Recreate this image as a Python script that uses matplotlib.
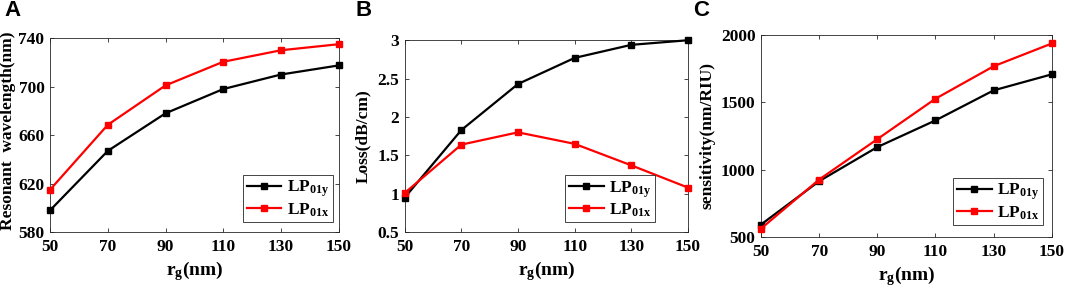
"""Three-panel plot of resonant wavelength, loss and sensitivity versus r_g."""

import matplotlib

matplotlib.use("Agg")

import matplotlib.pyplot as plt

# shared x axis
rg_nm = [50, 70, 90, 110, 130, 150]
series_labels = [r"LP$_{\rm 01y}$", r"LP$_{\rm 01x}$"]

# panel A: resonant wavelength (nm)
wavelength_01y = [598, 647, 678, 698, 710, 717.5]
wavelength_01x = [615, 668.5, 701, 720.5, 730, 735]

# panel B: loss (dB/cm)
loss_01y = [0.95, 1.83, 2.43, 2.77, 2.94, 3.0]
loss_01x = [1.01, 1.64, 1.80, 1.65, 1.37, 1.08]

# panel C: sensitivity (nm/RIU)
sensitivity_01y = [592, 914, 1167, 1365, 1588, 1707]
sensitivity_01x = [562, 926, 1226, 1526, 1767, 1936]

plt.rcParams["font.family"] = "Liberation Serif"
plt.rcParams["font.weight"] = "bold"
plt.rcParams["axes.labelweight"] = "bold"
plt.rcParams["mathtext.fontset"] = "custom"
plt.rcParams["mathtext.rm"] = "Liberation Serif:bold"
plt.rcParams["mathtext.it"] = "Liberation Serif:bold"
plt.rcParams["mathtext.bf"] = "Liberation Serif:bold"

EDGE = "#262626"

panels = [
    {
        "letter": "A",
        "letter_x": 0.004,
        "rect": [0.047, 0.221, 0.271, 0.651],
        "y1": wavelength_01y,
        "y2": wavelength_01x,
        "ylim": (580, 740),
        "yticks": [580, 620, 660, 700, 740],
        "yticklabels": ["580", "620", "660", "700", "740"],
        "ylabel": "Resonant  wavelength(nm)",
        "ylabel_xy": (-0.117, 0.525),
        "legend_anchor": (0.979, 0.052),
    },
    {
        "letter": "B",
        "letter_x": 0.334,
        "rect": [0.380, 0.221, 0.266, 0.644],
        "y1": loss_01y,
        "y2": loss_01x,
        "ylim": (0.5, 3.0),
        "yticks": [0.5, 1, 1.5, 2, 2.5, 3],
        "yticklabels": ["0.5", "1", "1.5", "2", "2.5", "3"],
        "ylabel": "Loss(dB/cm)",
        "ylabel_xy": (-0.12, 0.5),
        "legend_anchor": (0.883, 0.052),
    },
    {
        "letter": "C",
        "letter_x": 0.651,
        "rect": [0.7146, 0.205, 0.273, 0.678],
        "y1": sensitivity_01y,
        "y2": sensitivity_01x,
        "ylim": (500, 2000),
        "yticks": [500, 1000, 1500, 2000],
        "yticklabels": ["500", "1000", "1500", "2000"],
        "ylabel": "sensitivity(nm/RIU)",
        "ylabel_xy": (-0.155, 0.5),
        "legend_anchor": (0.969, 0.059),
    },
]

fig = plt.figure(figsize=(10.65, 2.98), dpi=100)

for panel in panels:
    ax = fig.add_axes(panel["rect"])
    ax.plot(rg_nm, panel["y1"], color="black", marker="s", markersize=4.8,
            linewidth=1.6, label=series_labels[0], clip_on=False, zorder=3)
    ax.plot(rg_nm, panel["y2"], color="#ff0000", marker="s", markersize=4.8,
            linewidth=1.6, label=series_labels[1], clip_on=False, zorder=3)

    ax.set_xlim(50, 150)
    ax.set_xticks(rg_nm)
    ax.set_xticklabels([str(v) for v in rg_nm], fontsize=12.5, fontweight="bold")
    ax.set_ylim(*panel["ylim"])
    ax.set_yticks(panel["yticks"])
    ax.set_yticklabels(panel["yticklabels"], fontsize=12.5, fontweight="bold")
    ax.tick_params(direction="in", top=True, right=True,
                   length=3, width=0.6, color=EDGE)
    ax.tick_params(axis="x", pad=5)
    ax.tick_params(axis="y", pad=4)
    for spine in ax.spines.values():
        spine.set_color(EDGE)
        spine.set_linewidth(0.6)

    ax.set_xlabel(r"r$_{\rm g}$(nm)", fontsize=14, fontweight="bold", labelpad=3)
    ax.set_ylabel(panel["ylabel"], fontsize=12.5, fontweight="bold")
    ax.yaxis.set_label_coords(*panel["ylabel_xy"])

    legend = ax.legend(loc="lower right", bbox_to_anchor=panel["legend_anchor"],
                       fancybox=False, framealpha=1, edgecolor=EDGE,
                       handlelength=2.0, borderaxespad=0.0, labelspacing=0.1,
                       borderpad=0.2, handletextpad=0.3,
                       prop={"family": "Liberation Serif", "weight": "bold", "size": 12.5})
    legend.get_frame().set_linewidth(0.6)

    fig.text(panel["letter_x"], 1.0, panel["letter"], fontsize=16,
             fontweight="bold", family="Liberation Sans", va="top", ha="left")

fig.savefig("out.png", dpi=100)
